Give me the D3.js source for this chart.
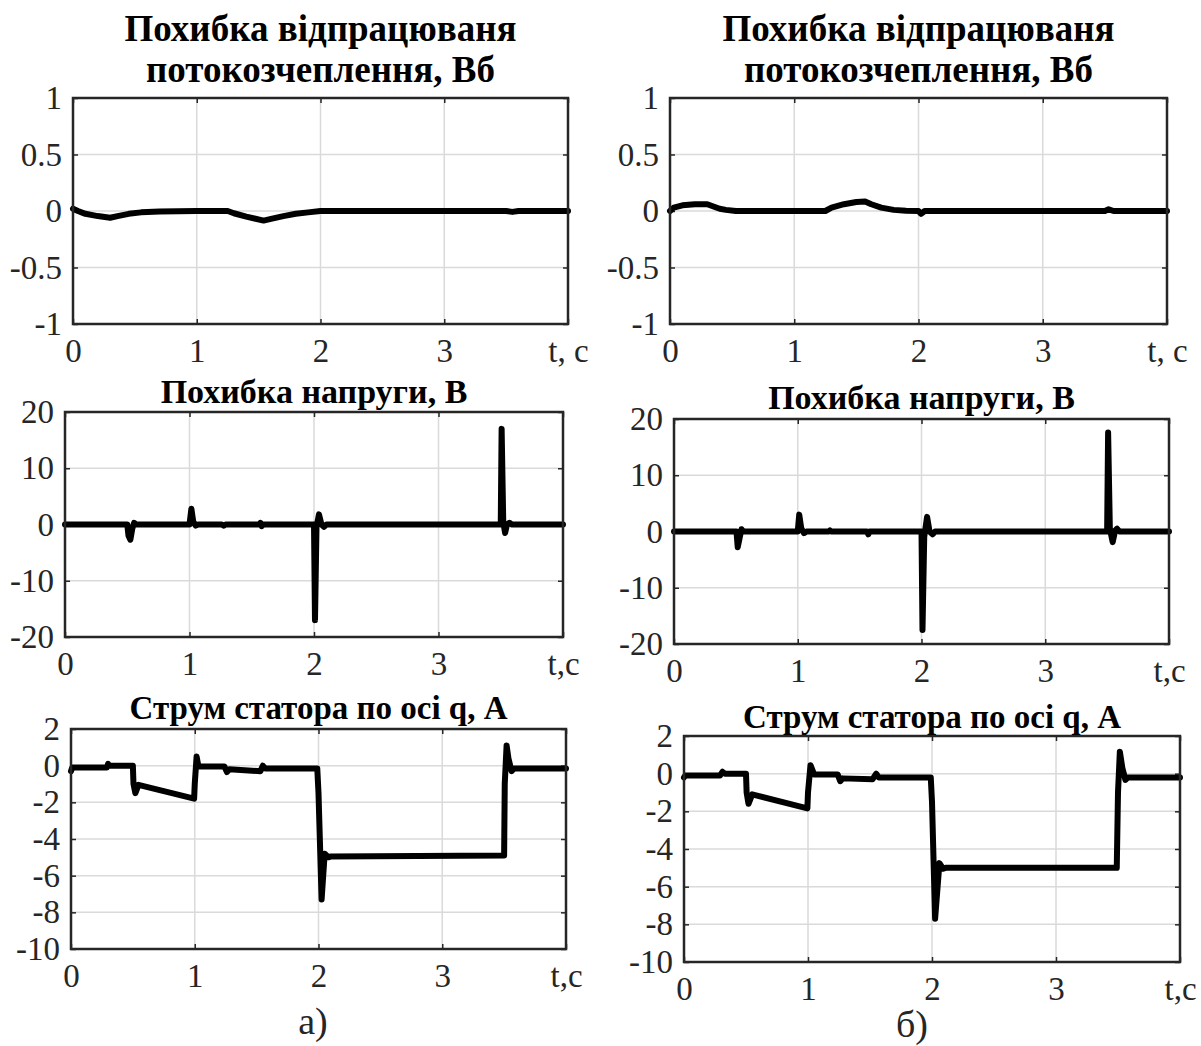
<!DOCTYPE html>
<html>
<head>
<meta charset="utf-8">
<script src="https://cdn.jsdelivr.net/npm/d3@7"></script>
<style>
  body { margin: 0; background: #fff; }
  svg { display: block; font-family: "Liberation Serif", "Times New Roman", serif; }
</style>
</head>
<body>
<div id="chart"></div>
<script>
// --- data ---
const fluxTimeA = [0, 0.04, 0.1, 0.2, 0.3, 0.36, 0.45, 0.55, 0.7, 0.85, 1.0, 1.25, 1.3, 1.4, 1.54, 1.6, 1.7, 1.8, 1.9, 2.0, 3.5, 3.55, 3.6, 4.0];
const fluxErrA = [0.02, 0.0, -0.025, -0.045, -0.06, -0.045, -0.025, -0.012, -0.005, -0.002, 0, 0, -0.02, -0.05, -0.085, -0.07, -0.045, -0.025, -0.012, 0, 0, -0.008, 0, 0];

const fluxTimeB = [0, 0.03, 0.1, 0.2, 0.3, 0.35, 0.4, 0.45, 0.53, 1.0, 1.25, 1.3, 1.4, 1.5, 1.57, 1.62, 1.7, 1.8, 1.9, 2.0, 2.02, 2.05, 3.5, 3.53, 3.57, 4.0];
const fluxErrB = [0.0, 0.03, 0.05, 0.06, 0.06, 0.04, 0.02, 0.01, 0, 0, 0, 0.03, 0.06, 0.08, 0.085, 0.06, 0.03, 0.01, 0.003, 0, -0.025, 0, 0, 0.015, 0, 0];

const voltTimeA = [0, 0.5, 0.51, 0.525, 0.54, 0.555, 0.57, 1.0, 1.015, 1.03, 1.05, 1.07, 1.26, 1.275, 1.29, 1.56, 1.57, 1.58, 1.59, 2.0, 2.008, 2.02, 2.04, 2.06, 2.08, 2.1, 3.5, 3.507, 3.52, 3.535, 3.55, 3.57, 3.59, 4.0];
const voltErrA = [0, 0, -2.0, -2.7, -0.8, 0.3, 0, 0, 2.8, 0.5, -0.2, 0, 0, -0.2, 0, 0, 0.3, -0.3, 0, 0, -17, -0.5, 1.8, 0, -0.4, 0, 0, 17, 0.5, -1.5, 0, 0.3, 0, 0];

const voltTimeB = [0, 0.505, 0.515, 0.53, 0.545, 0.56, 0.58, 1.0, 1.012, 1.028, 1.05, 1.07, 1.25, 1.26, 1.27, 1.56, 1.57, 1.58, 2.0, 2.008, 2.022, 2.045, 2.065, 2.09, 2.11, 3.5, 3.508, 3.522, 3.545, 3.565, 3.58, 3.6, 4.0];
const voltErrB = [0, 0, -2.8, -1.2, 0.4, 0, 0, 0, 3.0, 0.6, -0.3, 0, 0, 0.2, 0, 0, -0.5, 0, 0, -17.5, -1, 2.6, 0, -0.5, 0, 0, 17.6, 0.5, -1.9, 0.2, 0.5, 0, 0];

const currTimeA = [0, 0.01, 0.29, 0.3, 0.31, 0.5, 0.505, 0.52, 0.545, 0.995, 1.0, 1.015, 1.03, 1.24, 1.26, 1.28, 1.53, 1.55, 1.57, 1.99, 2.0, 2.025, 2.05, 2.08, 2.1, 3.5, 3.505, 3.52, 3.535, 3.56, 3.58, 4.0];
const currA = [-0.3, -0.1, -0.1, 0.1, 0.0, 0.0, -1.0, -1.5, -1.05, -1.8, -1.0, 0.5, -0.05, -0.05, -0.35, -0.2, -0.3, 0.0, -0.15, -0.15, -1.5, -7.3, -4.8, -5.0, -4.95, -4.9, -1.0, 1.1, 0.4, -0.3, -0.15, -0.15];

const currTimeB = [0, 0.01, 0.29, 0.31, 0.33, 0.5, 0.505, 0.52, 0.55, 0.995, 1.0, 1.02, 1.05, 1.24, 1.26, 1.28, 1.52, 1.55, 1.57, 1.99, 2.0, 2.025, 2.06, 2.09, 2.11, 3.49, 3.5, 3.515, 3.535, 3.56, 3.58, 4.0];
const currB = [-0.2, -0.1, -0.1, 0.1, 0.0, 0.0, -1.0, -1.6, -1.1, -1.84, -1.0, 0.45, -0.05, -0.05, -0.4, -0.25, -0.3, 0.0, -0.2, -0.2, -1.5, -7.7, -4.75, -5.05, -5.0, -5.0, -1.0, 1.17, 0.3, -0.33, -0.2, -0.2];

const xTicks = [0, 1, 2, 3, 4];
const xLabelsTop = ["0", "1", "2", "3", "t, c"];
const xLabelsLow = ["0", "1", "2", "3", "t,c"];
const fluxTicks = [-1, -0.5, 0, 0.5, 1];
const voltTicks = [-20, -10, 0, 10, 20];
const currTicks = [-10, -8, -6, -4, -2, 0, 2];

const fluxTitle = ["Похибка відпрацюваня", "потокозчеплення, Вб"];
const voltTitle = ["Похибка напруги, В"];
const currTitle = ["Струм статора по осі q, А"];

// --- layout ---
const width = 1201;
const height = 1046;
const panels = [
  { t: fluxTimeA, v: fluxErrA, ticks: fluxTicks, xl: xLabelsTop, title: fluxTitle, box: [73, 568, 98, 324], titleY: 41, titleSize: 37 },
  { t: fluxTimeB, v: fluxErrB, ticks: fluxTicks, xl: xLabelsTop, title: fluxTitle, box: [670, 1167, 98, 324], titleY: 41, titleSize: 37 },
  { t: voltTimeA, v: voltErrA, ticks: voltTicks, xl: xLabelsLow, title: voltTitle, box: [65, 563, 412, 637], titleY: 403, titleSize: 34 },
  { t: voltTimeB, v: voltErrB, ticks: voltTicks, xl: xLabelsLow, title: voltTitle, box: [674, 1169, 419, 644], titleY: 409, titleSize: 34 },
  { t: currTimeA, v: currA, ticks: currTicks, xl: xLabelsLow, title: currTitle, box: [71, 566, 729, 949], titleY: 719, titleSize: 33 },
  { t: currTimeB, v: currB, ticks: currTicks, xl: xLabelsLow, title: currTitle, box: [684, 1180, 736, 962], titleY: 728, titleSize: 33 },
];
const axisColor = "#262626";
const gridColor = "#dadada";
const tickFont = "33px";

const svg = d3
  .select("#chart")
  .append("svg")
  .attr("width", width)
  .attr("height", height);
svg.append("rect").attr("width", width).attr("height", height).attr("fill", "#fff");

panels.forEach((p) => {
  const [x0, x1, y0, y1] = p.box;
  const yDomain = d3.extent(p.ticks);
  const xScale = d3.scaleLinear().domain([0, 4]).range([x0, x1]);
  const yScale = d3.scaleLinear().domain(yDomain).range([y1, y0]);
  const g = svg.append("g");

  // grid
  g.append("g")
    .selectAll("line")
    .data(xTicks.slice(1, -1))
    .enter()
    .append("line")
    .attr("x1", (d) => xScale(d))
    .attr("x2", (d) => xScale(d))
    .attr("y1", y0)
    .attr("y2", y1)
    .attr("stroke", gridColor)
    .attr("stroke-width", 1.5);
  g.append("g")
    .selectAll("line")
    .data(p.ticks.slice(1, -1))
    .enter()
    .append("line")
    .attr("x1", x0)
    .attr("x2", x1)
    .attr("y1", (d) => yScale(d))
    .attr("y2", (d) => yScale(d))
    .attr("stroke", gridColor)
    .attr("stroke-width", 1.5);

  // axes with inward ticks
  const bottom = g
    .append("g")
    .attr("transform", `translate(0,${y1})`)
    .call(
      d3.axisBottom(xScale)
        .tickValues(xTicks)
        .tickSizeInner(-5)
        .tickSizeOuter(0)
        .tickPadding(15)
        .tickFormat((d, i) => p.xl[i])
    );
  const top = g
    .append("g")
    .attr("transform", `translate(0,${y0})`)
    .call(d3.axisTop(xScale).tickValues(xTicks).tickSizeInner(-5).tickSizeOuter(0).tickFormat(""));
  const left = g
    .append("g")
    .attr("transform", `translate(${x0},0)`)
    .call(
      d3.axisLeft(yScale)
        .tickValues(p.ticks)
        .tickSizeInner(-5)
        .tickSizeOuter(0)
        .tickPadding(11)
        .tickFormat((d) => String(d))
    );
  const right = g
    .append("g")
    .attr("transform", `translate(${x1},0)`)
    .call(d3.axisRight(yScale).tickValues(p.ticks).tickSizeInner(-5).tickSizeOuter(0).tickFormat(""));
  [bottom, top, left, right].forEach((a) => {
    a.select(".domain").remove();
    a.selectAll("line").attr("stroke", axisColor).attr("stroke-width", 1.5);
    a.selectAll("text")
      .attr("fill", axisColor)
      .style("font-family", "'Liberation Serif', 'Times New Roman', serif")
      .style("font-size", tickFont);
  });

  // data line
  const pts = p.t.map((t, i) => [t, p.v[i]]);
  const line = d3
    .line()
    .x((d) => xScale(d[0]))
    .y((d) => yScale(d[1]));
  g.append("path")
    .attr("d", line(pts))
    .attr("fill", "none")
    .attr("stroke", "#000")
    .attr("stroke-width", 6)
    .attr("stroke-linejoin", "round")
    .attr("stroke-linecap", "round");

  // box
  g.append("rect")
    .attr("x", x0)
    .attr("y", y0)
    .attr("width", x1 - x0)
    .attr("height", y1 - y0)
    .attr("fill", "none")
    .attr("stroke", axisColor)
    .attr("stroke-width", 2.5);

  // title
  const cx = (x0 + x1) / 2;
  p.title.forEach((line, i) => {
    g.append("text")
      .attr("x", cx)
      .attr("y", p.titleY + i * 41)
      .attr("text-anchor", "middle")
      .style("font-size", p.titleSize + "px")
      .style("font-weight", "bold")
      .attr("fill", "#000")
      .text(line);
  });
});

// sub-figure captions
svg.append("text")
  .attr("x", 313)
  .attr("y", 1034)
  .attr("text-anchor", "middle")
  .style("font-size", "38px")
  .attr("fill", "#262626")
  .text("а)");
svg.append("text")
  .attr("x", 912)
  .attr("y", 1037)
  .attr("text-anchor", "middle")
  .style("font-size", "38px")
  .attr("fill", "#262626")
  .text("б)");
</script>
</body>
</html>
